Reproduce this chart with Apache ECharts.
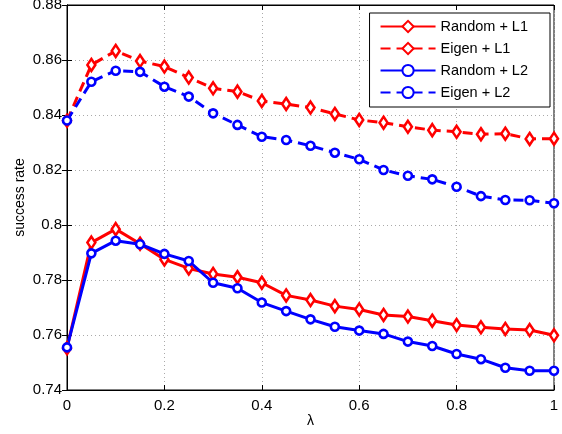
<!DOCTYPE html>
<html><head><meta charset="utf-8">
<script src="https://cdn.jsdelivr.net/npm/echarts@6/dist/echarts.min.js"></script>
<style>html,body{margin:0;padding:0;background:#fff}#c{width:562px;height:434px}</style>
</head><body><div id="c"></div>
<script>
const lambdas = [0,0.05,0.1,0.15,0.2,0.25,0.3,0.35,0.4,0.45,0.5,0.55,0.6,0.65,0.7,0.75,0.8,0.85,0.9,0.95,1];
const randomL1 = [0.7552,0.7936,0.7985,0.7932,0.7875,0.7842,0.7822,0.7810,0.7790,0.7744,0.7727,0.7705,0.7693,0.7673,0.7667,0.7652,0.7636,0.7628,0.7622,0.7618,0.7599];
const eigenL1 = [0.8379,0.8582,0.8633,0.8596,0.8576,0.8536,0.8497,0.8485,0.8451,0.8440,0.8427,0.8404,0.8382,0.8372,0.8357,0.8345,0.8339,0.8330,0.8332,0.8313,0.8314];
const randomL2 = [0.7555,0.7897,0.7943,0.7930,0.7895,0.7869,0.7790,0.7770,0.7718,0.7687,0.7657,0.7630,0.7616,0.7604,0.7576,0.7560,0.7531,0.7512,0.7481,0.7470,0.7470];
const eigenL2 = [0.8380,0.8521,0.8561,0.8557,0.8503,0.8467,0.8406,0.8364,0.8321,0.8309,0.8288,0.8263,0.8239,0.8200,0.8179,0.8166,0.8139,0.8105,0.8091,0.8090,0.8079];
const seriesNames = ['Random + L1','Eigen + L1','Random + L2','Eigen + L2'];
const yMin = 0.74, yMax = 0.88, yStep = 0.02;
const xMin = 0, xMax = 1, xStep = 0.2;

const pair = arr => lambdas.map((l,i)=>[l,arr[i]]);
const FONT = '"Liberation Sans", Arial, sans-serif';
function mk(name, data, color, dashed, symbol, size){
  return {
    name, type:'line', data: pair(data),
    symbol, symbolSize: size,
    itemStyle:{color:'#fff', borderColor:color, borderWidth:2.6},
    lineStyle:{color, width:3, type: dashed ? [10,6] : 'solid'},
    emphasis:{disabled:true}, animation:false
  };
}
const chart = echarts.init(document.getElementById('c'));
const grid = {left:67, right:8, top:5, bottom:44, containLabel:false, outerBoundsMode:'none',
  show:true, borderColor:'#000', borderWidth:1, backgroundColor:'#fff'};
const splitLine = {show:true, lineStyle:{color:'#aaa', type:[1,3], width:1}};
chart.setOption({
  animation:false,
  grid,
  legend:{
    orient:'vertical', right:12, top:13, padding:[6,22,7,10],
    backgroundColor:'#fff', borderColor:'#000', borderWidth:1, borderRadius:0,
    itemWidth:55, itemHeight:14, itemGap:7,
    textStyle:{fontFamily:FONT, fontSize:14.5, color:'#000'},
    data: seriesNames
  },
  xAxis:[{
    type:'value', min:xMin, max:xMax, interval:xStep,
    name:'λ', nameLocation:'middle', nameGap:24, nameMoveOverlap:false,
    nameTextStyle:{fontFamily:FONT, fontSize:14, color:'#000'},
    axisLine:{show:true, lineStyle:{color:'#000', width:1}},
    axisTick:{show:true, inside:true, length:5, lineStyle:{color:'#000'}},
    axisLabel:{fontFamily:FONT, fontSize:15, color:'#000', margin:8},
    splitLine
  },{
    type:'value', position:'top', min:xMin, max:xMax, interval:xStep,
    axisLine:{show:true, lineStyle:{color:'#000'}},
    axisTick:{show:true, inside:true, length:5, lineStyle:{color:'#000'}},
    axisLabel:{show:false}, splitLine:{show:false}
  }],
  yAxis:[{
    type:'value', min:yMin, max:yMax, interval:yStep,
    name:'success rate', nameLocation:'middle', nameGap:40, nameRotate:90, nameMoveOverlap:false,
    nameTextStyle:{fontFamily:FONT, fontSize:14, color:'#000'},
    axisLine:{show:true, lineStyle:{color:'#000', width:1}},
    axisTick:{show:true, inside:true, length:5, lineStyle:{color:'#000'}},
    axisLabel:{fontFamily:FONT, fontSize:15, color:'#000', margin:5},
    splitLine
  },{
    type:'value', position:'right', min:yMin, max:yMax, interval:yStep,
    axisLine:{show:true, lineStyle:{color:'#000'}},
    axisTick:{show:true, inside:true, length:5, lineStyle:{color:'#000'}},
    axisLabel:{show:false}, splitLine:{show:false}
  }],
  series:[
    mk(seriesNames[0], randomL1, '#ff0000', false, 'diamond', [8,12]),
    mk(seriesNames[1], eigenL1, '#ff0000', true, 'diamond', [8,12]),
    mk(seriesNames[2], randomL2, '#0000ff', false, 'circle', 8),
    mk(seriesNames[3], eigenL2, '#0000ff', true, 'circle', 8)
  ]
});
</script></body></html>
